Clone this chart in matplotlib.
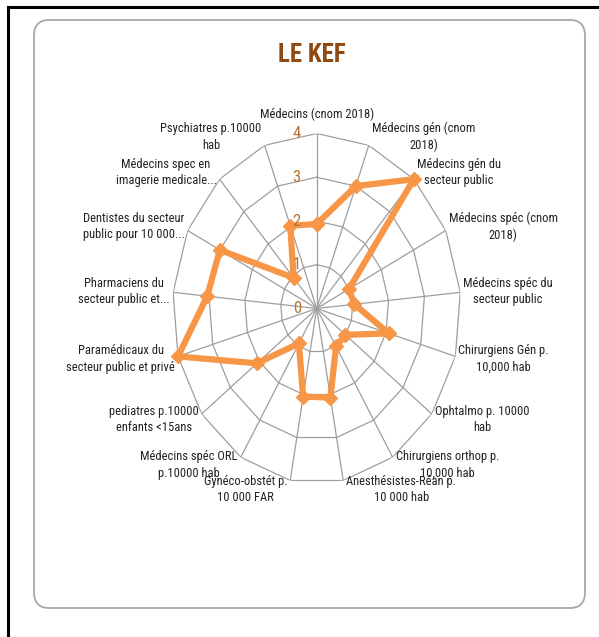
import numpy as np
import matplotlib
matplotlib.use("Agg")
import matplotlib.pyplot as plt
from matplotlib import font_manager
from matplotlib.patches import FancyBboxPatch
from matplotlib.lines import Line2D

# ---------------- data ----------------
categories = [
    "Médecins (cnom 2018)",
    "Médecins gén (cnom\n2018)",
    "Médecins gén du\nsecteur public",
    "Médecins spéc (cnom\n2018)",
    "Médecins spéc du\nsecteur public",
    "Chirurgiens Gén p.\n10,000 hab",
    "Ophtalmo p. 10000\nhab",
    "Chirurgiens orthop p.\n10,000 hab",
    "Anesthésistes-Réan p.\n10 000 hab",
    "Gynéco-obstét p.\n10 000 FAR",
    "Médecins spéc ORL\np.10000 hab",
    "pediatres p.10000\nenfants <15ans",
    "Paramédicaux du\nsecteur public et privé",
    "Pharmaciens du\nsecteur public et...",
    "Dentistes du secteur\npublic pour 10 000...",
    "Médecins spec en\nimagerie medicale...",
    "Psychiatres p.10000\nhab",
]
values = [1.93, 3.0, 4.0, 1.0, 1.05, 2.08, 1.0, 1.02, 2.07, 2.05,
          0.94, 2.08, 4.0, 3.05, 3.0, 0.95, 2.03]
radial_ticks = [0, 1, 2, 3, 4]
title = "LE KEF"

# ---------------- fonts ----------------
def pick(fams):
    for f in fams:
        try:
            font_manager.findfont(f, fallback_to_default=False)
            return f
        except Exception:
            pass
    return "DejaVu Sans"

narrow = pick(["Liberation Sans Narrow", "Roboto Condensed", "Open Sans Condensed", "Liberation Sans"])
plt.rcParams["font.family"] = [narrow, "DejaVu Sans"]

# ---------------- figure ----------------
W, H = 599, 637
fig = plt.figure(figsize=(W / 100, H / 100), dpi=100)
fig.patch.set_facecolor("white")

# outer black frame (top & left) and rounded chart area
fig.add_artist(Line2D([8 / W, 8 / W], [0, 1 - 7 / H], color="black", lw=2.2,
                      transform=fig.transFigure, zorder=-2))
fig.add_artist(Line2D([8 / W, 1], [1 - 7 / H, 1 - 7 / H], color="black", lw=2.2,
                      transform=fig.transFigure, zorder=-2))
box = FancyBboxPatch((34 / W, 1 - 608 / H), (585 - 34) / W, (608 - 20) / H,
                     boxstyle="round,pad=0,rounding_size=0.025",
                     transform=fig.transFigure, facecolor="white",
                     edgecolor="#A8A8A8", lw=1.3, zorder=-1)
fig.add_artist(box)

fig.text(0.521, 1 - 55 / H, title, ha="center", va="center", fontsize=18,
         fontweight="bold", color="#8E4A12")

# polar axes (elliptical, as in reference)
cx, cy, rx, ry = 316.7, 308.5, 144.2, 175.0
ax = fig.add_axes([(cx - rx) / W, (H - cy - ry) / H, 2 * rx / W, 2 * ry / H],
                  projection="polar")
ax.set_zorder(1)
ax.set_aspect("auto")
ax.set_theta_zero_location("N")
ax.set_theta_direction(-1)
ax.set_ylim(0, 4)
ax.grid(False)
ax.set_xticks([])
ax.set_yticks([])
ax.spines["polar"].set_visible(False)
ax.patch.set_alpha(0)

n = len(categories)
theta = np.arange(n) * 2 * np.pi / n
theta_c = np.concatenate([theta, theta[:1]])

grid_col = "#9E9E9E"
for r in radial_ticks[1:]:
    ax.plot(theta_c, [r] * (n + 1), color=grid_col, lw=0.9, zorder=1)
for t in theta:
    ax.plot([t, t], [0, radial_ticks[-1]], color=grid_col, lw=0.9, zorder=1)

vals_c = values + values[:1]
ax.plot(theta_c, vals_c, color="#F79646", lw=4.5, marker="D", markersize=7,
        solid_joinstyle="miter", zorder=3, clip_on=False)

# radial tick labels
for r in radial_ticks:
    ax.annotate(str(r), xy=(0, r), xytext=(-20, 0), textcoords="offset pixels",
                ha="center", va="center", fontsize=12, color="#B8722E", zorder=4)

# category labels
for t, lab in zip(theta, categories):
    s, c = np.sin(t), np.cos(t)
    if abs(s) < 1e-6:
        ha, dx, dy, va = "center", 0, 12, "bottom"
    elif s > 0:
        ha, dx, dy, va = "left", 3, c * 9, "center"
    else:
        ha, dx, dy, va = "right", -3, c * 9, "center"
    ax.annotate(lab, xy=(t, 4), xytext=(dx, dy), textcoords="offset pixels",
                ha=ha, va=va, multialignment="center", fontsize=9,
                color="#222222", linespacing=1.35, annotation_clip=False)

fig.savefig("out.png", dpi=100)
